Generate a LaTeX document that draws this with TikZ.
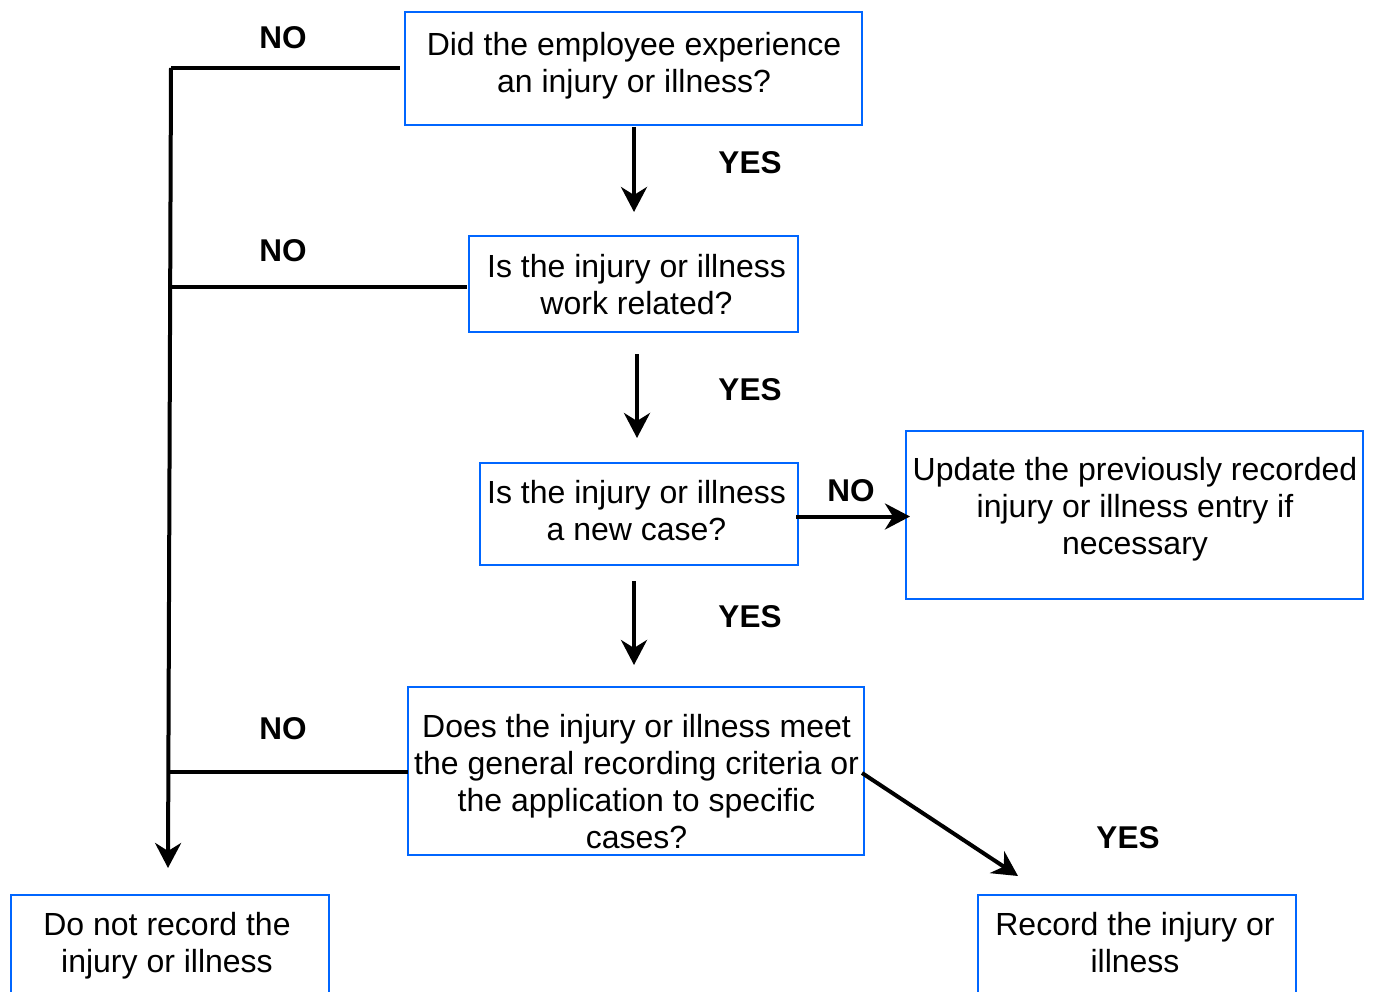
\documentclass[tikz,border=0pt]{standalone}
\usepackage{fontspec}
\setmainfont{Liberation Sans}
\usetikzlibrary{arrows.meta}
\definecolor{boxblue}{RGB}{0,102,255}
\begin{document}
\begin{tikzpicture}[x=1pt,y=-1pt,
  box/.style={draw=boxblue, line width=2.5pt, inner sep=0pt, outer sep=0pt, rectangle},
  txt/.style={font=\fontsize{32}{37}\selectfont, align=center, inner sep=0pt},
  lbl/.style={font=\fontsize{31.5}{37}\selectfont\bfseries, inner sep=0pt},
  conn/.style={line width=4pt},
  arr/.style={conn, -{Stealth[length=25pt,width=26pt,inset=8pt]}}]
\useasboundingbox (0,0) rectangle (1376,992);
% boxes
\node[box, minimum width=457pt, minimum height=113pt] (b1) at (633.5,68.5) {};
\node[box, minimum width=329pt, minimum height=96pt] (b2) at (633.5,284) {};
\node[box, minimum width=318pt, minimum height=102pt] (b3) at (639,514) {};
\node[box, minimum width=457pt, minimum height=168pt] (b4) at (1134.5,515) {};
\node[box, minimum width=456pt, minimum height=168pt] (b5) at (636,771) {};
\node[box, minimum width=318pt, minimum height=120pt] (b6) at (170,955) {};
\node[box, minimum width=318pt, minimum height=120pt] (b7) at (1137,955) {};
% texts
\node[txt] (t1) at (634,65.5) {Did the employee experience\\an injury or illness?};
\node[txt] (t2) at (636.5,284.5) {Is the injury or illness\\work related?};
\node[txt] (t3) at (636.5,511) {Is the injury or illness\\a new case?};
\node[txt] (t4) at (1135,509.5) {Update the previously recorded\\injury or illness entry if\\necessary};
\node[txt] (t5) at (636.5,782) {Does the injury or illness meet\\the general recording criteria or\\the application to specific\\cases?};
\node[txt] (t6) at (167,945.5) {Do not record the\\injury or illness};
\node[txt] (t7) at (1135,943) {Record the injury or\\illness};
% labels
\node[lbl] (no1) at (283,38) {NO};
\node[lbl] (no2) at (283,251) {NO};
\node[lbl] (no3) at (283,729) {NO};
\node[lbl] (no4) at (851,491) {NO};
\node[lbl] (yes1) at (750,163) {YES};
\node[lbl] (yes2) at (750,390) {YES};
\node[lbl] (yes3) at (750,617) {YES};
\node[lbl] (yes4) at (1128,838) {YES};
% coordinates
\coordinate (j1) at (171,68);
\coordinate (j2) at (171,287);
\coordinate (j3) at (169,772);
\coordinate (jend) at (168,868);
\coordinate (a1s) at (634,127);
\coordinate (a1e) at (634,212);
\coordinate (a2s) at (637,354);
\coordinate (a2e) at (637,438);
\coordinate (a3s) at (634,581);
\coordinate (a3e) at (634,665);
\coordinate (a4s) at (796,516.5);
\coordinate (a4e) at (910,516.5);
\coordinate (a5s) at (862,773);
\coordinate (a5e) at (1018,876);
% connectors
\draw[conn] ([xshift=-5pt,yshift=0.5pt]b1.west) -- (j1);
\draw[conn] ([xshift=-2pt,yshift=-3pt]b2.west) -- (j2);
\draw[conn] ([yshift=-1pt]b5.west) -- (j3);
\draw[arr] (j1) -- (jend);
\draw[arr] (a1s) -- (a1e);
\draw[arr] (a2s) -- (a2e);
\draw[arr] (a3s) -- (a3e);
\draw[arr] (a4s) -- (a4e);
\draw[arr] (a5s) -- (a5e);
\end{tikzpicture}
\end{document}
